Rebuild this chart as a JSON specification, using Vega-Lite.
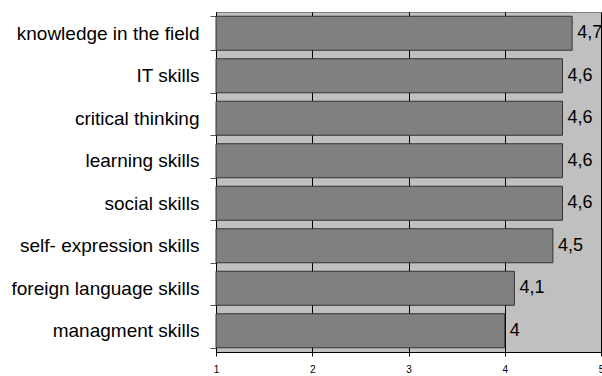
{
  "$schema": "https://vega.github.io/schema/vega-lite/v6.json",
  "width": 385,
  "height": 340,
  "autosize": "none",
  "padding": {"left": 216, "top": 12, "right": 1, "bottom": 24},
  "background": "white",
  "config": {
    "font": "Liberation Sans",
    "view": {"fill": "#c0c0c0", "stroke": "#808080"}
  },
  "data": {
    "values": [
      {"skill": "knowledge in the field", "value": 4.7, "label": "4,7"},
      {"skill": "IT skills", "value": 4.6, "label": "4,6"},
      {"skill": "critical thinking", "value": 4.6, "label": "4,6"},
      {"skill": "learning skills", "value": 4.6, "label": "4,6"},
      {"skill": "social skills", "value": 4.6, "label": "4,6"},
      {"skill": "self- expression skills", "value": 4.5, "label": "4,5"},
      {"skill": "foreign language skills", "value": 4.1, "label": "4,1"},
      {"skill": "managment skills", "value": 4.0, "label": "4"}
    ]
  },
  "encoding": {
    "y": {
      "field": "skill",
      "type": "nominal",
      "sort": null,
      "scale": {"paddingInner": 0.2, "paddingOuter": 0.1},
      "axis": {
        "title": null,
        "domainColor": "black",
        "tickBand": "extent",
        "tickColor": "#555555",
        "tickSize": 6,
        "labelFontSize": 19,
        "labelColor": "black",
        "labelPadding": 11,
        "labelLimit": 230
      }
    }
  },
  "layer": [
    {
      "mark": {"type": "bar", "color": "#808080", "stroke": "#333333", "strokeWidth": 1},
      "encoding": {
        "x": {
          "field": "value",
          "type": "quantitative",
          "scale": {"domain": [1, 5], "zero": false, "nice": false},
          "axis": {
            "title": null,
            "values": [1, 2, 3, 4, 5],
            "grid": true,
            "gridColor": "#000000",
            "gridOpacity": 1,
            "domainColor": "black",
            "tickColor": "black",
            "tickSize": 4,
            "labelFontSize": 10,
            "labelColor": "black",
            "labelPadding": 8,
            "labelBaseline": "top",
            "labelFlush": false,
            "format": "d"
          }
        },
        "x2": {"datum": 1}
      }
    },
    {
      "mark": {"type": "text", "align": "left", "dx": 5, "fontSize": 18, "color": "black"},
      "encoding": {
        "x": {"field": "value", "type": "quantitative"},
        "text": {"field": "label"}
      }
    }
  ]
}
